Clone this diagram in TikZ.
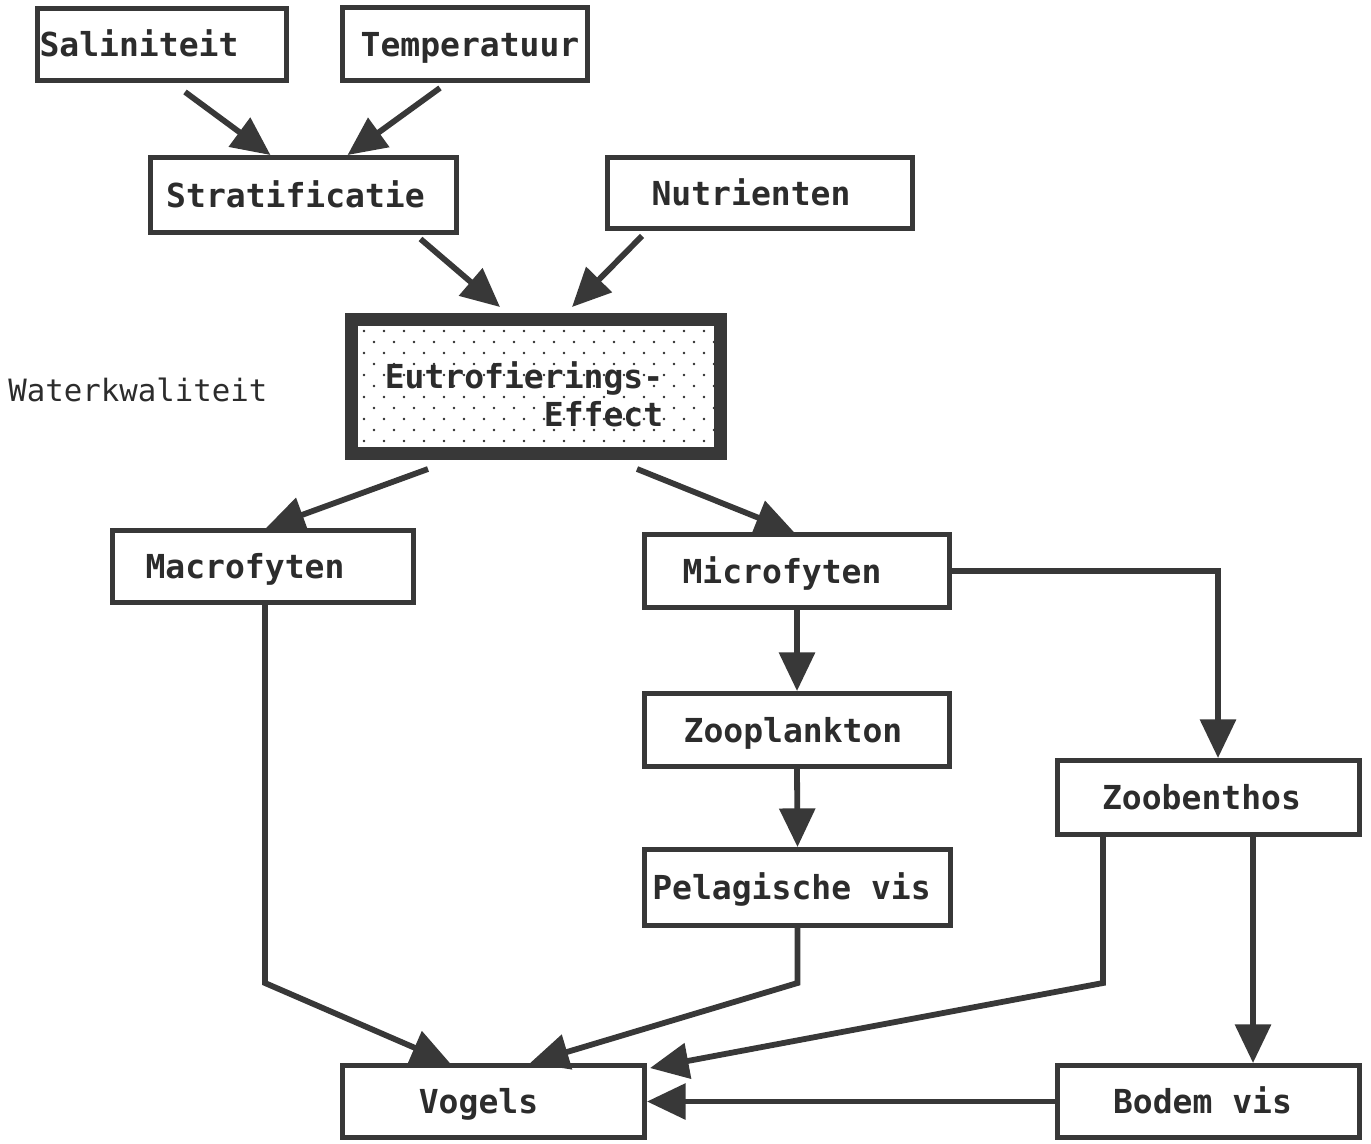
\documentclass[tikz,border=0pt]{standalone}
\usepackage{fontspec}
\usetikzlibrary{arrows.meta}
\newfontfamily\monofam{DejaVu Sans Mono}
\newdimen\pxu \pxu=0.02cm
\definecolor{linec}{HTML}{383838}
\definecolor{textc}{HTML}{2C2C2C}
\tikzset{
  box/.style={draw=linec, line width=2.8pt, fill=white, text=textc, inner sep=0pt,
    font=\monofam\bfseries\fontsize{18.8pt}{21.5pt}\selectfont, text height=13.7pt, text depth=0pt},
  sz/.style 2 args={minimum width=#1*\pxu, minimum height=#2*\pxu},
  arr/.style={draw=linec, line width=3.3pt, line join=miter, -{Triangle[length=22pt,width=20pt]}},
}
\begin{document}
\begin{tikzpicture}[x=0.02cm,y=-0.02cm]
\useasboundingbox (0,0) rectangle (1371,1143);
% boxes
\node[box, sz={249}{72}] (sal) at (162,44.5) {Saliniteit\hspace*{46\pxu}};
\node[box, sz={245}{73}] (tem) at (465,44) {\hspace*{10\pxu}Temperatuur};
\node[box, sz={306}{75}] (str) at (303.5,195) {Stratificatie\hspace*{16\pxu}};
\node[box, sz={305}{71}] (nut) at (760,193) {Nutrienten\hspace*{18\pxu}};
\node[draw=linec, line width=7.4pt, sz={369}{134}, inner sep=0pt] (eut) at (536,386.5) {};
\begin{scope}
  \clip (358,326) rectangle (714,447);
  \foreach \r in {0,...,10}{
    \pgfmathsetmacro\yy{331+11*\r}
    \pgfmathsetmacro\off{mod(\r,2)*10}
    \foreach \c in {0,...,17}{
      \fill[textc] (364+\off+20*\c,\yy) circle[radius=0.8pt];
    }
  }
\end{scope}
\node[text=textc, align=right, inner sep=0pt, font=\monofam\bfseries\fontsize{18.8pt}{21.5pt}\selectfont] (eutt) at (524,394) {Eutrofierings-\\Effect};
\node[box, sz={301}{72}] (mac) at (263,566.5) {Macrofyten\hspace*{36\pxu}};
\node[box, sz={305}{73}] (mic) at (797,571) {Microfyten\hspace*{30\pxu}};
\node[box, sz={305}{73}] (zoo) at (797,730) {Zooplankton\hspace*{8\pxu}};
\node[box, sz={302}{74}] (zbe) at (1208.5,797.5) {Zoobenthos\hspace*{14\pxu}};
\node[box, sz={306}{76}] (pel) at (797.5,887.5) {Pelagische vis\hspace*{12\pxu}};
\node[box, sz={302}{72}] (vog) at (493.5,1101.5) {Vogels\hspace*{30\pxu}};
\node[box, sz={302}{72}] (bod) at (1208.5,1101.5) {Bodem vis\hspace*{12\pxu}};
\node[anchor=west, text=textc, inner sep=0pt, font=\monofam\fontsize{17.5pt}{20pt}\selectfont] (wk) at (8,390) {Waterkwaliteit};
% bend points
\coordinate (c1) at (265,983);
\coordinate (c2) at (797.5,983);
\coordinate (c3) at (1103,983);
\coordinate (c4) at (1218,571);
% connectors
\draw[arr] ([shift={(23,9)}]sal.south) -- ([shift={(-33,0)}]str.north);
\draw[arr] ([shift={(-25,5)}]tem.south) -- ([shift={(44,0)}]str.north);
\draw[arr] ([shift={(117,4)}]str.south) -- ([shift={(-36,-6)}]eut.north);
\draw[arr] ([shift={(-118,5)}]nut.south) -- ([shift={(36,-6)}]eut.north);
\draw[arr] ([shift={(-108,9)}]eut.south) -- ([shift={(3,0)}]mac.north);
\draw[arr] ([shift={(101,9)}]eut.south) -- ([shift={(-3,0)}]mic.north);
\draw[arr] (mac.south -| c1) -- (c1) -- ([shift={(-43.5,0)}]vog.north);
\draw[arr] (mic.south) -- (zoo.north);
\draw[arr] (mic.east) -- (c4) -- (c4 |- zbe.north);
\draw[arr] (zoo.south) -- (pel.north);
\draw[arr] (pel.south) -- (c2) -- ([shift={(36.5,0)}]vog.north);
\draw[arr] (zbe.south -| c3) -- (c3) -- ([shift={(3,5)}]vog.north east);
\draw[arr] ([shift={(44.5,0)}]zbe.south) -- ([shift={(44.5,0)}]bod.north);
\draw[arr] (bod.west) -- (vog.east);
\end{tikzpicture}
\end{document}
